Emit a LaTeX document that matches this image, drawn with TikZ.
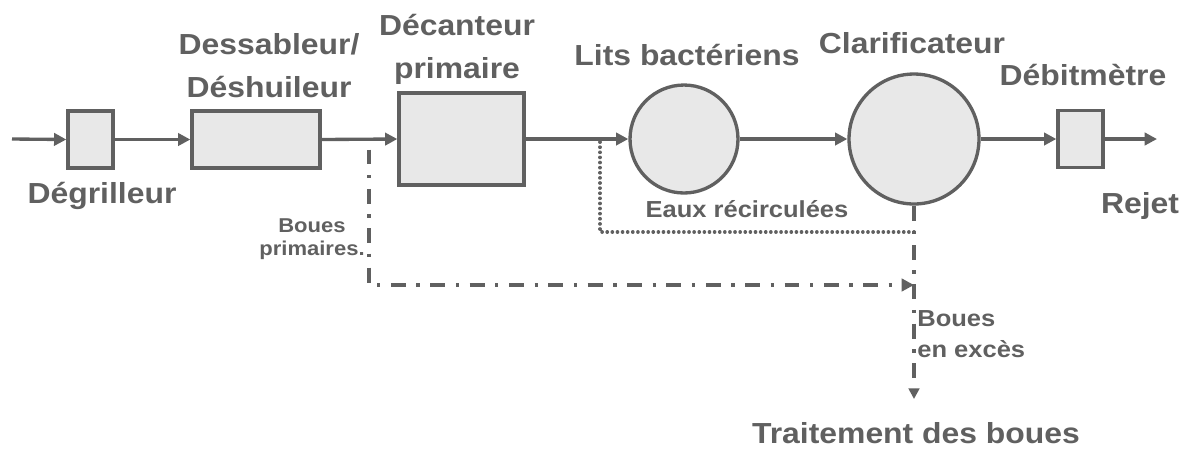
\documentclass[tikz,border=0pt]{standalone}
\usepackage{fontspec}
\usetikzlibrary{arrows.meta}
\newfontfamily\labelfont{Liberation Sans Bold}[FakeStretch=1.1]
\definecolor{linegray}{RGB}{96,96,96}
\definecolor{boxgray}{RGB}{232,232,232}
\tikzset{
  unit/.style={draw=linegray, fill=boxgray, line width=1.9pt, inner sep=0pt},
  tank/.style={unit, circle},
  flow/.style={draw=linegray, line width=1.9pt, -{Triangle[length=7pt,width=7pt]}},
  sludge/.style={draw=linegray, line width=1.9pt, dash pattern=on 8.5pt off 6pt on 1.9pt off 6pt},
  recirc/.style={draw=linegray, line width=2.1pt, line cap=round, dash pattern=on 0.01pt off 2.9pt},
  biglbl/.style={text=linegray, inner sep=0pt, anchor=base, align=center,
                 font=\labelfont\fontsize{16.5}{24.4}\selectfont},
  smalllbl/.style={text=linegray, inner sep=0pt, anchor=base,
                   font=\labelfont\fontsize{13.2}{17.6}\selectfont}
}
\begin{document}
\begin{tikzpicture}[x=0.02cm, y=-0.02cm]
  \useasboundingbox (0,0) rectangle (1187,458);

  % treatment units along the main line
  \node[unit, minimum width=0.9cm, minimum height=1.14cm] (degr) at (90.5,139.5) {};
  \node[unit, minimum width=2.56cm, minimum height=1.14cm] (dess) at (256,139.5) {};
  \node[unit, minimum width=2.5cm, minimum height=1.84cm] (deca) at (461.5,139) {};
  \node[tank, minimum size=2.16cm] (lits) at (684,139) {};
  \node[tank, minimum size=2.6cm] (clar) at (914,139) {};
  \node[unit, minimum width=0.9cm, minimum height=1.14cm] (debit) at (1080.5,139) {};

  % inlet, outlet and branch points
  \coordinate (inlet) at (12,139);
  \coordinate (outlet) at (1157,139);
  \coordinate (prim) at (369,139);
  \coordinate (primlow) at (369,285);
  \coordinate (primend) at (914,285);
  \coordinate (rec) at (600,139);
  \coordinate (reclow) at (600,232);
  \coordinate (recend) at (914,232);
  \coordinate (excess) at (914,399);

  % water flow
  \draw[flow] (inlet) -- (degr.west);
  \draw[flow] (degr.east) -- (dess.west);
  \draw[flow] (dess.east) -- (deca.west);
  \draw[flow] (deca.east) -- (lits.west);
  \draw[flow] (lits.east) -- (clar.west);
  \draw[flow] (clar.east) -- (debit.west);
  \draw[flow] (debit.east) -- (outlet);

  % recirculated water (dotted)
  \draw[recirc] (recend) -- (reclow) -- (rec);

  % sludge lines (dash-dot)
  \draw[sludge, dash phase=16.4pt, -{Triangle[length=7pt,width=7pt]}] (prim) -- (primlow) -- (primend);
  \draw[sludge, -{Triangle[length=6pt,width=6pt]}] (clar.south) -- (excess);

  % labels
  \node[biglbl] (ldegr) at (102,203) {Dégrilleur};
  \node[biglbl] (ldess) at (269,97) {Dessableur/\\Déshuileur};
  \node[biglbl] (ldeca) at (457,78) {Décanteur\\primaire};
  \node[biglbl] (llits) at (687,65) {Lits bactériens};
  \node[biglbl] (lclar) at (912,53) {Clarificateur};
  \node[biglbl] (ldebit) at (1083,85) {Débitmètre};
  \node[biglbl] (lrejet) at (1140,213) {Rejet};
  \node[biglbl] (ltrait) at (916,443) {Traitement des boues};
  \node[smalllbl] (leaux) at (747,217) {Eaux récirculées};
  \node[smalllbl, align=center, font=\labelfont\fontsize{11.4}{13}\selectfont] (lprim) at (312,255) {Boues\\primaires.};
  \node[smalllbl, align=left, anchor=base west] (lexc) at (917,357) {Boues\\en excès};
\end{tikzpicture}
\end{document}
